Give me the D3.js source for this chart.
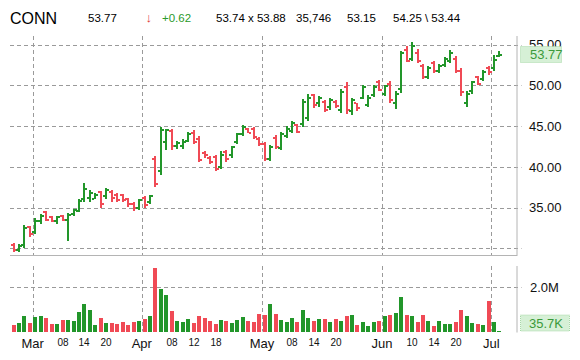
<!DOCTYPE html>
<html>
<head>
<meta charset="utf-8">
<script src="https://cdn.jsdelivr.net/npm/d3@7"></script>
<style>
html,body{margin:0;padding:0;background:#fff;}
svg{display:block;font-family:Arial,"Liberation Sans",sans-serif;}
</style>
</head>
<body>
<svg id="chart" width="580" height="360"></svg>
<script>
// ---------- DATA ----------
const dates = [
"2013-02-25","2013-02-26","2013-02-27","2013-02-28",
"2013-03-01","2013-03-04","2013-03-05","2013-03-06","2013-03-07","2013-03-08",
"2013-03-11","2013-03-12","2013-03-13","2013-03-14","2013-03-15",
"2013-03-18","2013-03-19","2013-03-20","2013-03-21","2013-03-22",
"2013-03-25","2013-03-26","2013-03-27","2013-03-28",
"2013-04-01","2013-04-02","2013-04-03","2013-04-04","2013-04-05",
"2013-04-08","2013-04-09","2013-04-10","2013-04-11","2013-04-12",
"2013-04-15","2013-04-16","2013-04-17","2013-04-18","2013-04-19",
"2013-04-22","2013-04-23","2013-04-24","2013-04-25","2013-04-26",
"2013-04-29","2013-04-30",
"2013-05-01","2013-05-02","2013-05-03",
"2013-05-06","2013-05-07","2013-05-08","2013-05-09","2013-05-10",
"2013-05-13","2013-05-14","2013-05-15","2013-05-16","2013-05-17",
"2013-05-20","2013-05-21","2013-05-22","2013-05-23","2013-05-24",
"2013-05-28","2013-05-29","2013-05-30","2013-05-31",
"2013-06-03","2013-06-04","2013-06-05","2013-06-06","2013-06-07",
"2013-06-10","2013-06-11","2013-06-12","2013-06-13","2013-06-14",
"2013-06-17","2013-06-18","2013-06-19","2013-06-20","2013-06-21",
"2013-06-24","2013-06-25","2013-06-26","2013-06-27","2013-06-28",
"2013-07-01","2013-07-02"
];
const opens = [
30.4,29.8,30.4,32.6,
32.0,33.3,34.4,33.9,33.3,34.0,
33.5,34.2,34.6,36.0,36.2,
36.1,36.9,36.4,36.9,36.6,
36.5,36.0,35.5,35.0,
36.2,35.7,41.0,39.5,43.0,
44.4,42.6,42.6,43.2,44.2,
43.4,41.7,41.1,41.2,40.0,
41.8,41.4,43.1,44.0,44.7,
44.6,43.4,
42.8,41.0,43.5,
42.3,43.8,44.4,45.2,45.3,
46.0,48.8,47.8,48.0,47.3,
48.0,47.0,49.8,46.8,47.8,
48.5,47.6,48.8,50.4,
49.0,50.2,47.8,49.6,54.4,
53.3,54.0,52.4,51.0,52.7,
51.8,52.5,53.0,53.3,51.8,
47.8,49.3,51.0,50.8,52.1,
52.1,53.6
];
const highs = [
30.6,30.5,32.9,32.8,
33.7,34.2,34.6,34.0,34.0,34.1,
34.3,34.8,36.0,38.0,37.1,
36.8,37.0,37.4,37.1,36.8,
36.7,36.2,35.7,36.1,
36.4,36.5,41.3,44.9,44.7,
44.7,43.2,43.4,44.3,44.5,
43.8,41.9,41.3,41.5,41.9,
42.1,42.6,44.2,45.1,44.8,
44.9,43.7,
43.1,42.7,43.9,
44.3,45.0,45.6,45.3,48.3,
48.9,49.0,48.7,48.2,48.5,
48.2,49.6,50.4,48.5,47.9,
50.1,48.8,50.0,50.7,
50.1,50.5,49.3,54.2,54.8,
55.3,54.5,52.6,52.4,53.0,
52.6,53.5,54.3,53.6,52.2,
49.3,50.6,51.2,51.9,52.4,
53.7,54.25
];
const lows = [
29.5,29.5,30.1,31.4,
31.8,33.0,33.3,33.2,33.0,33.3,
30.9,34.0,34.4,35.7,35.7,
36.0,35.0,36.0,35.7,35.7,
35.7,35.1,34.6,34.7,
35.0,35.5,37.5,39.0,42.1,
42.1,42.2,42.2,43.0,42.8,
40.6,41.1,40.4,39.5,39.7,
40.6,41.1,42.8,43.8,44.1,
43.4,42.6,
40.7,40.7,42.2,
42.1,43.5,44.1,44.1,44.9,
45.6,47.2,47.4,46.7,47.0,
47.2,46.6,46.5,46.4,46.9,
48.3,47.4,48.6,49.3,
48.7,47.8,47.1,49.1,52.9,
53.0,52.8,50.8,50.8,51.5,
51.5,52.3,52.8,51.5,48.7,
47.3,49.0,50.0,50.5,51.3,
51.8,53.44
];
const closes = [
29.8,30.3,32.5,31.7,
33.4,34.0,33.5,33.4,33.9,33.5,
34.1,34.7,35.8,37.3,36.8,
36.6,35.5,37.1,36.2,35.9,
35.9,35.4,34.9,35.9,
35.3,36.4,37.9,44.5,44.5,
42.6,42.9,43.1,44.0,43.1,
40.9,41.4,40.6,39.8,41.5,
41.0,42.4,44.0,44.9,44.2,
43.7,42.8,
41.0,42.5,42.4,
44.0,44.7,45.4,44.3,48.0,
48.5,47.6,48.5,47.0,48.2,
47.5,49.2,47.0,48.2,47.2,
49.8,48.4,49.8,49.5,
49.9,48.2,49.0,54.0,53.0,
54.8,53.0,51.0,52.2,51.8,
52.4,53.3,54.0,51.8,49.2,
48.9,50.4,50.2,51.7,51.6,
53.15,53.77
];
const volumes = [
300000,370000,700000,370000,
650000,700000,610000,330000,330000,500000,
500000,460000,860000,1260000,950000,
300000,610000,370000,370000,330000,
410000,300000,410000,460000,
550000,700000,2860000,1900000,1660000,
920000,460000,410000,560000,370000,
700000,590000,460000,330000,500000,
470000,370000,500000,650000,470000,
410000,790000,
740000,1230000,790000,
520000,430000,610000,410000,960000,
610000,460000,550000,550000,410000,
550000,460000,700000,740000,300000,
410000,250000,410000,460000,
700000,740000,830000,1540000,740000,
700000,410000,740000,460000,250000,
460000,330000,330000,410000,950000,
700000,370000,330000,300000,1360000,
410000,35746
];
const priceTicks = [35, 40, 45, 50, 55];
const priceGrid = [30, 35, 40, 45, 50, 55];
const volumeTicks = [2000000];
const monthTicks = [
  ["2013-03-01","Mar"],["2013-04-01","Apr"],["2013-05-01","May"],
  ["2013-06-03","Jun"],["2013-07-01","Jul"]
];
const dayTicks = [
  ["2013-03-08","08"],["2013-03-14","14"],["2013-03-20","20"],
  ["2013-04-08","08"],["2013-04-12","12"],["2013-04-18","18"],
  ["2013-05-08","08"],["2013-05-14","14"],["2013-05-20","20"],
  ["2013-06-10","10"],["2013-06-14","14"],["2013-06-20","20"]
];
const header = {
  symbol: "CONN", last: "53.77", change: "+0.62",
  bidAsk: "53.74 x 53.88", volume: "35,746", prevClose: "53.15", highLow: "54.25 \\ 53.44"
};
const lastPriceLabel = "53.77";
const lastVolumeLabel = "35.7K";

// ---------- LAYOUT ----------
const GREEN = "#22962a", RED = "#f04a55", GRID = "#9a9a9a", BORDER = "#b4b4b4";
const plotL = 10, plotR = 516.5;
const priceTop = 36, priceBot = 255;
const volTop = 266, volBot = 331.5;

const svg = d3.select("#chart");

const x = d3.scaleBand().domain(dates).range([10.77, 10.77 + 5.46 * dates.length]).padding(0);
const cx = d => Math.round(x(d) + x.bandwidth() / 2);

const y = d3.scaleLinear().domain([29.18, 56.07]).range([priceBot, priceTop]);
const yv = d3.scaleLinear().domain([0, 2950000]).range([volBot, volTop]);

// ---------- GRID ----------
const g = svg.append("g");
g.selectAll("line.hp").data(priceGrid).join("line")
  .attr("x1", plotL).attr("x2", plotR + 5)
  .attr("y1", d => Math.round(y(d)) + 0.5).attr("y2", d => Math.round(y(d)) + 0.5)
  .attr("stroke", GRID).attr("stroke-dasharray", "4,3").attr("stroke-width", 1);
g.selectAll("line.hv").data(volumeTicks).join("line")
  .attr("x1", plotL).attr("x2", plotR + 5)
  .attr("y1", d => Math.round(yv(d)) + 0.5).attr("y2", d => Math.round(yv(d)) + 0.5)
  .attr("stroke", GRID).attr("stroke-dasharray", "4,3");
monthTicks.forEach(([d]) => {
  const xx = Math.round(x(d)) + 0.5;
  g.append("line").attr("x1", xx).attr("x2", xx).attr("y1", priceTop).attr("y2", priceBot)
    .attr("stroke", GRID).attr("stroke-dasharray", "4,3");
  g.append("line").attr("x1", xx).attr("x2", xx).attr("y1", volTop).attr("y2", volBot)
    .attr("stroke", GRID).attr("stroke-dasharray", "4,3");
});
g.append("line").attr("x1", plotL).attr("x2", plotR + 0.5).attr("y1", priceBot + 0.5).attr("y2", priceBot + 0.5).attr("stroke", BORDER);
g.append("line").attr("x1", plotR + 0.5).attr("x2", plotR + 0.5).attr("y1", priceTop).attr("y2", priceBot + 1).attr("stroke", BORDER);
g.append("line").attr("x1", plotR + 0.5).attr("x2", plotR + 0.5).attr("y1", volTop).attr("y2", volBot + 1).attr("stroke", BORDER);

// ---------- VOLUME ----------
const rows = dates.map((d, i) => ({d, o: opens[i], h: highs[i], l: lows[i], c: closes[i], v: volumes[i]}));
const col = r => r.c >= r.o ? GREEN : RED;

svg.append("g").selectAll("rect").data(rows).join("rect")
  .attr("x", r => cx(r.d) - 2)
  .attr("width", 4)
  .attr("y", r => Math.round(yv(r.v)))
  .attr("height", r => Math.max(1, Math.round(volBot) - Math.round(yv(r.v))))
  .attr("fill", col);

// ---------- OHLC ----------
const ohlc = svg.append("g").attr("shape-rendering", "crispEdges");
rows.forEach(r => {
  const c = cx(r.d), color = col(r);
  const yh = Math.round(y(r.h)), yl = Math.round(y(r.l));
  ohlc.append("rect").attr("x", c - 1).attr("width", 2).attr("y", yh).attr("height", Math.max(2, yl - yh)).attr("fill", color);
  ohlc.append("rect").attr("x", c - 3).attr("width", 2).attr("y", Math.round(y(r.o)) - 1).attr("height", 2).attr("fill", color);
  ohlc.append("rect").attr("x", c + 1).attr("width", 2).attr("y", Math.round(y(r.c)) - 1).attr("height", 2).attr("fill", color);
});

// ---------- AXES TEXT ----------
const ax = svg.append("g").attr("fill", "#111");
ax.selectAll("text.pt").data(priceTicks).join("text")
  .attr("x", 529).attr("y", d => y(d)).attr("dy", "0.36em")
  .attr("font-size", 13).text(d => d.toFixed(2));
ax.selectAll("text.vt").data(volumeTicks).join("text")
  .attr("x", 530).attr("y", d => yv(d)).attr("dy", "0.36em")
  .attr("font-size", 13).text(d => (d / 1e6).toFixed(1) + "M");

ax.selectAll("text.mt").data(monthTicks).join("text")
  .attr("x", d => x(d[0])).attr("y", 348).attr("text-anchor", "middle")
  .attr("font-size", 13).text(d => d[1]);
ax.selectAll("text.dt").data(dayTicks).join("text")
  .attr("x", d => cx(d[0])).attr("y", 345.5).attr("text-anchor", "middle")
  .attr("font-size", 10).text(d => d[1]);

// last price box
const lastY = y(closes[closes.length - 1]);
svg.append("rect").attr("x", 520.5).attr("y", Math.round(lastY) - 8.5).attr("width", 41).attr("height", 16)
  .attr("fill", "#d6f0d6").attr("stroke", "#a8d8a8").attr("stroke-dasharray", "1,1");
svg.append("text").attr("x", 530).attr("y", lastY).attr("dy", "0.36em").attr("font-size", 13)
  .attr("fill", "#3a9a3a").text(lastPriceLabel);
// last volume box
svg.append("rect").attr("x", 520.5).attr("y", volBot - 16.5).attr("width", 49).attr("height", 16)
  .attr("fill", "#d6f0d6").attr("stroke", "#a8d8a8").attr("stroke-dasharray", "1,1");
svg.append("text").attr("x", 529).attr("y", volBot - 8.5).attr("dy", "0.36em").attr("font-size", 13)
  .attr("fill", "#3a9a3a").text(lastVolumeLabel);

// ---------- HEADER ----------
const hd = svg.append("g");
hd.append("text").attr("x", 10).attr("y", 24).attr("font-size", 16).attr("fill", "#000").text(header.symbol);
const hs = 11.5, hy = 21.7;
hd.append("text").attr("x", 88).attr("y", hy).attr("font-size", hs).text(header.last);
hd.append("text").attr("x", 145.5).attr("y", hy).attr("font-size", 13).attr("font-weight", "bold").attr("fill", "#e03c3c").text("\u2193");
hd.append("text").attr("x", 162).attr("y", hy).attr("font-size", hs).attr("fill", "#2a9a2a").text(header.change);
hd.append("text").attr("x", 216).attr("y", hy).attr("font-size", hs).text(header.bidAsk);
hd.append("text").attr("x", 296).attr("y", hy).attr("font-size", hs).text(header.volume);
hd.append("text").attr("x", 347).attr("y", hy).attr("font-size", hs).text(header.prevClose);
hd.append("text").attr("x", 393).attr("y", hy).attr("font-size", hs).text(header.highLow);
</script>
</body>
</html>
